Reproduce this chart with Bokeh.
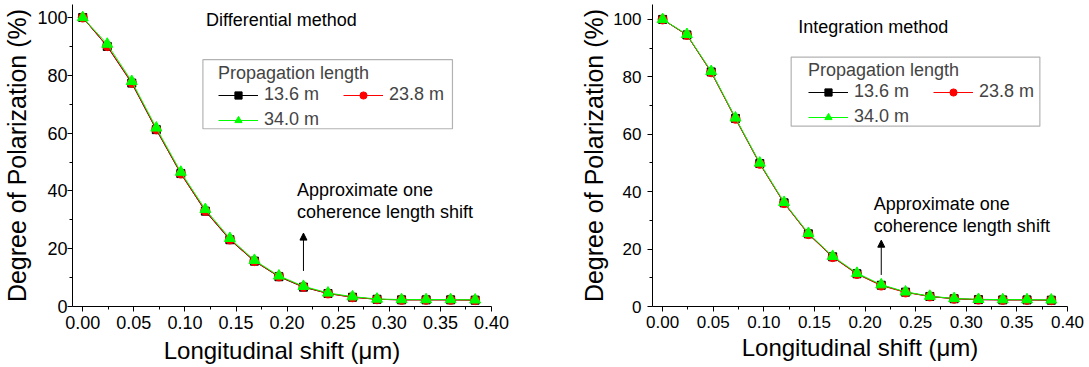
from bokeh.plotting import figure
from bokeh.layouts import row
from bokeh.models import (Range1d, FixedTicker, PrintfTickFormatter, Legend, LegendItem,
                          Label, Arrow, NormalHead, BoxAnnotation)
from bokeh.embed import file_html
from bokeh.resources import INLINE

# ---------------- data ----------------
shift_um = [0.000, 0.024, 0.048, 0.072, 0.096, 0.120, 0.144, 0.168, 0.192,
            0.216, 0.240, 0.264, 0.288, 0.312, 0.336, 0.360, 0.384]
series_names = ["13.6 m", "23.8 m", "34.0 m"]

diff_136 = [100, 90.0, 77.3, 61.2, 46.0, 33.0, 23.1, 15.7, 10.3, 6.7, 4.5, 3.2, 2.5, 2.3, 2.3, 2.3, 2.2]
diff_238 = [100, 90.1, 77.4, 61.3, 46.0, 33.1, 23.2, 15.7, 10.4, 6.8, 4.5, 3.2, 2.5, 2.3, 2.3, 2.3, 2.2]
diff_340 = [100, 90.8, 77.9, 61.8, 46.5, 33.6, 23.6, 16.0, 10.6, 7.0, 4.7, 3.4, 2.6, 2.4, 2.4, 2.4, 2.3]

int_136 = [100, 94.6, 81.7, 65.5, 49.8, 36.1, 25.3, 17.3, 11.4, 7.4, 5.0, 3.5, 2.7, 2.4, 2.3, 2.3, 2.2]
int_238 = [100, 94.6, 81.6, 65.4, 49.7, 36.0, 25.2, 17.2, 11.3, 7.3, 4.9, 3.5, 2.7, 2.4, 2.3, 2.3, 2.2]
int_340 = [100, 94.8, 81.9, 65.7, 50.0, 36.3, 25.5, 17.5, 11.6, 7.6, 5.1, 3.6, 2.8, 2.5, 2.4, 2.4, 2.3]

x_major = [0.00, 0.05, 0.10, 0.15, 0.20, 0.25, 0.30, 0.35, 0.40]
x_minor = [0.025, 0.075, 0.125, 0.175, 0.225, 0.275, 0.325, 0.375]
y_major = [0, 20, 40, 60, 80, 100]
y_minor = [10, 30, 50, 70, 90]

FONT = "Liberation Sans"
TXT = "18px"
colors = ["black", "#FF0000", "#00FF00"]
markers = ["square", "circle", "triangle"]
msizes = [8, 9, 11]


def make_plot(width, height, bl, br, bt, bb, y_end, tick_fs, y_std, x_lab_std, series,
              title_txt, title_xy, note_xy, arrow_xy, legend_loc, box):
    p = figure(width=width, height=height, output_backend="svg", toolbar_location=None,
               x_range=Range1d(-0.01, 0.40), y_range=Range1d(0, y_end),
               min_border_left=bl, min_border_right=br, min_border_top=bt,
               min_border_bottom=bb)
    p.outline_line_color = None
    p.xgrid.visible = False
    p.ygrid.visible = False
    p.background_fill_color = "white"
    p.border_fill_color = "white"

    p.xaxis.ticker = FixedTicker(ticks=x_major, minor_ticks=x_minor)
    p.yaxis.ticker = FixedTicker(ticks=y_major, minor_ticks=y_minor)
    p.xaxis.formatter = PrintfTickFormatter(format="%.2f")
    for ax in (p.xaxis[0], p.yaxis[0]):
        ax.axis_line_color = "black"
        ax.major_tick_line_color = "black"
        ax.minor_tick_line_color = "black"
        ax.major_tick_in = 0
        ax.major_tick_out = 5
        ax.minor_tick_in = 0
        ax.minor_tick_out = 3
        ax.major_label_text_font = FONT
        ax.major_label_text_font_size = tick_fs
        ax.major_label_text_color = "black"
        ax.axis_label_text_font = FONT
        ax.axis_label_text_font_style = "normal"
        ax.axis_label_text_color = "black"
    p.xaxis.major_label_standoff = 4
    p.xaxis.axis_label_standoff = x_lab_std
    p.yaxis.major_label_standoff = y_std[0]
    p.yaxis.axis_label_standoff = y_std[1]
    p.xaxis.axis_label = "Longitudinal shift (\u03bcm)"
    p.xaxis.axis_label_text_font_size = "24px"
    p.yaxis.axis_label = "Degree of Polarization (%)"
    p.yaxis.axis_label_text_font_size = "25px"

    items = {}
    for name, ys, c, m, s in zip(series_names, series, colors, markers, msizes):
        l = p.line(shift_um, ys, line_color=c, line_width=1)
        sc = p.scatter(shift_um, ys, marker=m, size=s, fill_color=c, line_color=c)
        items[name] = LegendItem(label=name, renderers=[l, sc])

    # legend frame
    p.add_layout(BoxAnnotation(left=box[0], right=box[1], top=box[2], bottom=box[3],
                               fill_alpha=0, line_color="black", line_width=1.2))
    # column-major grid: first column 13.6 m / 34.0 m, second column 23.8 m
    leg = Legend(items=[items["13.6 m"], items["34.0 m"], items["23.8 m"]],
                 location=legend_loc, ncols=2,
                 title="Propagation length", title_text_font=FONT,
                 title_text_font_size=TXT, title_text_font_style="normal",
                 title_standoff=0, label_text_font=FONT, label_text_font_size=TXT,
                 glyph_width=40, glyph_height=18, label_height=18, label_width=75,
                 label_standoff=6, spacing=4, padding=0, margin=0,
                 border_line_alpha=0, background_fill_alpha=0)
    p.add_layout(leg, "center")

    p.add_layout(Label(x=title_xy[0], y=title_xy[1], text=title_txt, text_font=FONT,
                       text_font_size=TXT, text_baseline="middle", text_color="black"))
    p.add_layout(Label(x=note_xy[0], y=note_xy[1], text="Approximate one", text_font=FONT,
                       text_font_size=TXT, text_baseline="middle", text_color="black"))
    p.add_layout(Label(x=note_xy[0], y=note_xy[2], text="coherence length shift",
                       text_font=FONT, text_font_size=TXT, text_baseline="middle",
                       text_color="black"))
    p.add_layout(Arrow(end=NormalHead(size=7, fill_color="black", line_color="black"),
                       x_start=arrow_xy[0], y_start=arrow_xy[1],
                       x_end=arrow_xy[0], y_end=arrow_xy[2],
                       line_color="black", line_width=1))
    return p


p1 = make_plot(560, 367, 72, 69, 0, 61, 104.5, "18px", (0, 3), 5,
               [diff_136, diff_238, diff_340],
               "Differential method", (0.1206, 99.1), (0.2096, 40.2, 32.6),
               (0.216, 12.3, 25.4), (146, 176), (0.1176, 0.3618, 85.4, 61.5))
p2 = make_plot(529, 367, 92, 22, 4, 58, 105.2, "17px", (6, 2), 3,
               [int_136, int_238, int_340],
               "Integration method", (0.134, 97.2), (0.2086, 35.6, 28.0),
               (0.216, 11.0, 23.1), (156, 179), (0.127, 0.3727, 86.9, 62.8))

layout = row(p1, p2)
open("out.html", "w").write(file_html(layout, INLINE))
